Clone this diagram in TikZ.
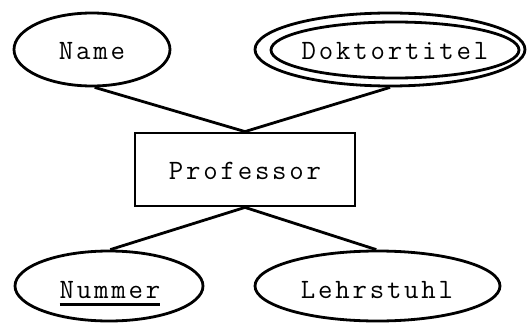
\documentclass[tikz,border=0pt]{standalone}
\usepackage{fontspec}
\newfontfamily\ertt{Latin Modern Mono}[LetterSpace=10]
\usetikzlibrary{shapes.geometric}
\tikzset{
  attr/.style={draw, ellipse, line width=2.8pt, inner sep=0pt},
  entity/.style={draw, rectangle, line width=2.8pt, inner sep=0pt},
  lbl/.style={anchor=base, inner sep=0pt, font=\ertt\fontsize{28}{32}\selectfont},
  conn/.style={line width=2.8pt}
}
\begin{document}
\begin{tikzpicture}[x=1pt,y=1pt]
\useasboundingbox (0,0) rectangle (527,322);
% entity
\node[entity, minimum width=220pt, minimum height=73pt] (prof) at (245,152.5) {};
\node[lbl] (proft) at (245,143) {Professor};
% attributes
\node[attr, minimum width=156pt, minimum height=73pt] (name) at (92,272.5) {};
\node[lbl] (namet) at (92,262) {Name};
\node[attr, minimum width=270pt, minimum height=73pt] (dok) at (390,272.5) {};
\node[attr, minimum width=248pt, minimum height=56pt] (dokin) at (395,272) {};
\node[lbl] (dokt) at (395,262) {Doktortitel};
\node[attr, minimum width=188pt, minimum height=70pt] (num) at (109,36) {};
\node[lbl] (numt) at (110,24) {\setbox0\hbox{Nummer}\rlap{\rule[-8pt]{\wd0}{3.2pt}}\box0};
\node[attr, minimum width=245pt, minimum height=70pt] (lehr) at (377.5,36) {};
\node[lbl] (lehrt) at (377,24) {Lehrstuhl};
% connectors
\draw[conn] (name.-86) -- (prof.north);
\draw[conn] (dok.south) -- (prof.north);
\draw[conn] (num.88) -- (prof.south);
\draw[conn] (lehr.92) -- (prof.south);
\end{tikzpicture}
\end{document}
